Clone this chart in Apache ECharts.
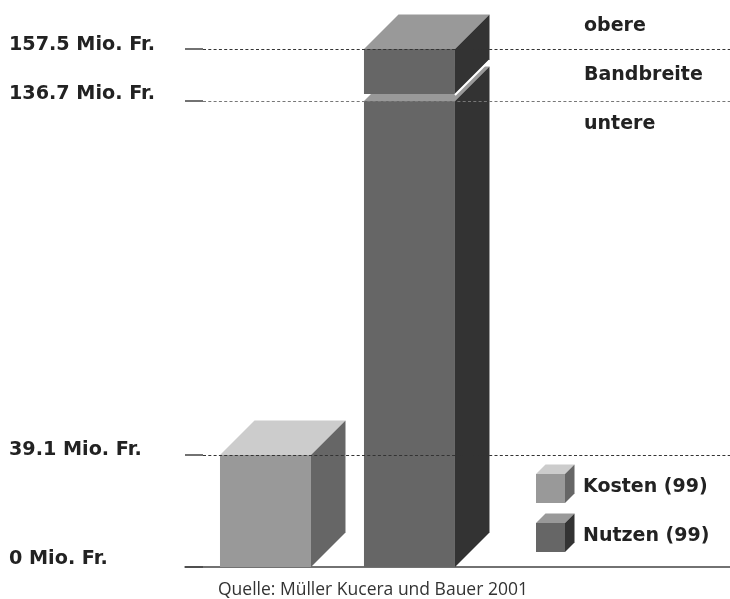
<!DOCTYPE html>
<html>
<head>
<meta charset="utf-8">
<style>
  html, body { margin: 0; background: #fff; }
  #chart { width: 730px; height: 599px; }
</style>
<script src="https://cdn.jsdelivr.net/npm/echarts@6/dist/echarts.min.js"></script>
</head>
<body>
<div id="chart"></div>
<script>
const categories = ['Kosten (99)', 'Nutzen (99)']
const costValue = 39.1
const benefitLower = 136.7
const benefitUpper = 157.5
const tickValues = [0, 39.1, 136.7, 157.5]
const ruleValues = [39.1, 136.7, 157.5]
const ruleColors = ['#333', '#777', '#333']
const bandLabels = ['obere', 'Bandbreite', 'untere']
const source = 'Quelle: Müller Kucera und Bauer 2001'

// colours per block: front, top, side
const lightCube = ['#999999', '#cccccc', '#666666']
const darkCube = ['#666666', '#999999', '#333333']

const FONT = '"DejaVu Sans", sans-serif'
const BAR_W = 91
const DEPTH = 34.5
const BAND_GAP = 7 // white space between the two stacked blocks, px
const TICK_LEN = 18

// [categoryIndex, from, to, isUpperBlock]
const blocks = [
  [0, 0, costValue, 0],
  [1, 0, benefitLower, 0],
  [1, benefitLower, benefitUpper, 1]
]

function cubeShapes(x, yTop, yBottom, w, d, c) {
  const face = (points, fill) => ({
    type: 'polygon',
    shape: { points },
    style: { fill }
  })
  return [
    face([[x, yTop], [x + d, yTop - d], [x + w + d, yTop - d], [x + w, yTop]], c[1]),
    face([[x + w, yTop], [x + w + d, yTop - d], [x + w + d, yBottom - d], [x + w, yBottom]], c[2]),
    face([[x, yTop], [x + w, yTop], [x + w, yBottom], [x, yBottom]], c[0])
  ]
}

function renderBlock(params, api) {
  const cat = api.value(0)
  const upper = api.value(3)
  const top = api.coord([cat, api.value(2)])
  const bottom = api.coord([cat, api.value(1)])
  const x = top[0] - BAR_W / 2
  const yBottom = upper ? bottom[1] - BAND_GAP : bottom[1]
  const children = cubeShapes(x, top[1], yBottom, BAR_W, DEPTH, cat === 0 ? lightCube : darkCube)
  if (upper) {
    // thin white edge under the side face of the floating block
    children.push({
      type: 'line',
      shape: { x1: x + BAR_W, y1: yBottom + 1, x2: x + BAR_W + DEPTH, y2: yBottom - DEPTH + 1 },
      style: { stroke: '#fff', lineWidth: 2 }
    })
  }
  return { type: 'group', children }
}

// dotted level rules run over the blocks, so they are a series of their own
function renderRule(params, api) {
  const y = Math.round(api.coord([0, api.value(0)])[1]) + 0.5
  const cs = params.coordSys
  return {
    type: 'line',
    shape: { x1: cs.x + TICK_LEN, y1: y, x2: cs.x + cs.width, y2: y },
    style: { stroke: ruleColors[params.dataIndex], lineWidth: 1, lineDash: [3, 2.3] }
  }
}

function legendCube(y, c) {
  return {
    type: 'group',
    children: cubeShapes(536, y, y + 29, 29, 9.5, c)
  }
}

function textEl(text, x, y, size, weight, color, family) {
  return {
    type: 'text',
    x, y,
    style: { text, fontFamily: family || FONT, fontSize: size, fontWeight: weight, fill: color, textVerticalAlign: 'middle' }
  }
}

// each label sits a little above its rule, by a different amount in the source
const labelKeys = { 0: 'd', 39.1: 'b', 136.7: 'c', 157.5: 'a' }
const labelBase = { color: '#222', fontFamily: FONT, fontSize: 19.2, fontWeight: 700 }

const chart = echarts.init(document.getElementById('chart'), null, { renderer: 'canvas' })

chart.setOption({
  animation: false,
  backgroundColor: '#fff',
  grid: { left: 185, right: 0, top: 49, bottom: 32 },
  xAxis: {
    type: 'value',
    min: -0.559,
    max: 3.226,
    axisLine: { show: true, onZero: false, lineStyle: { color: '#444', width: 1.5 } },
    axisTick: { show: false },
    axisLabel: { show: false },
    splitLine: { show: false }
  },
  yAxis: {
    type: 'value',
    min: 0,
    max: 157.5,
    // the source chart is not drawn to scale, the breaks reproduce its spacing
    breaks: [
      { start: 10, end: 30, gap: 11.78 },
      { start: 140, end: 155, gap: 8.54 }
    ],
    breakArea: { show: false },
    axisLine: { show: false, onZero: false },
    axisTick: {
      show: true,
      customValues: tickValues,
      inside: true,
      length: TICK_LEN,
      lineStyle: { color: '#444', width: 1.5 }
    },
    axisLabel: {
      customValues: tickValues,
      formatter: (v) => `{${labelKeys[v]}|${v} Mio. Fr.}`,
      align: 'left',
      verticalAlign: 'bottom',
      margin: 176,
      rich: {
        a: { ...labelBase, lineHeight: 8 },
        b: { ...labelBase, lineHeight: 10 },
        c: { ...labelBase, lineHeight: 14 },
        d: { ...labelBase, lineHeight: 16 }
      }
    },
    splitLine: { show: false }
  },
  graphic: [
    ...bandLabels.map((t, i) => textEl(t, 584, 26 + i * 49, 19, 700, '#222')),
    legendCube(474, lightCube),
    legendCube(523, darkCube),
    textEl(categories[0], 583, 487, 19, 700, '#222'),
    textEl(categories[1], 583, 536, 19, 700, '#222'),
    textEl(source, 218, 590, 17.5, 400, '#333', '"Open Sans", sans-serif')
  ],
  series: [{
    type: 'custom',
    coordinateSystem: 'cartesian2d',
    clip: false,
    z: 2,
    encode: { x: 0, y: [1, 2] },
    renderItem: renderBlock,
    data: blocks
  }, {
    type: 'custom',
    coordinateSystem: 'cartesian2d',
    clip: false,
    z: 3,
    encode: { y: 0 },
    renderItem: renderRule,
    data: ruleValues.map((v) => [v])
  }]
})
</script>
</body>
</html>
